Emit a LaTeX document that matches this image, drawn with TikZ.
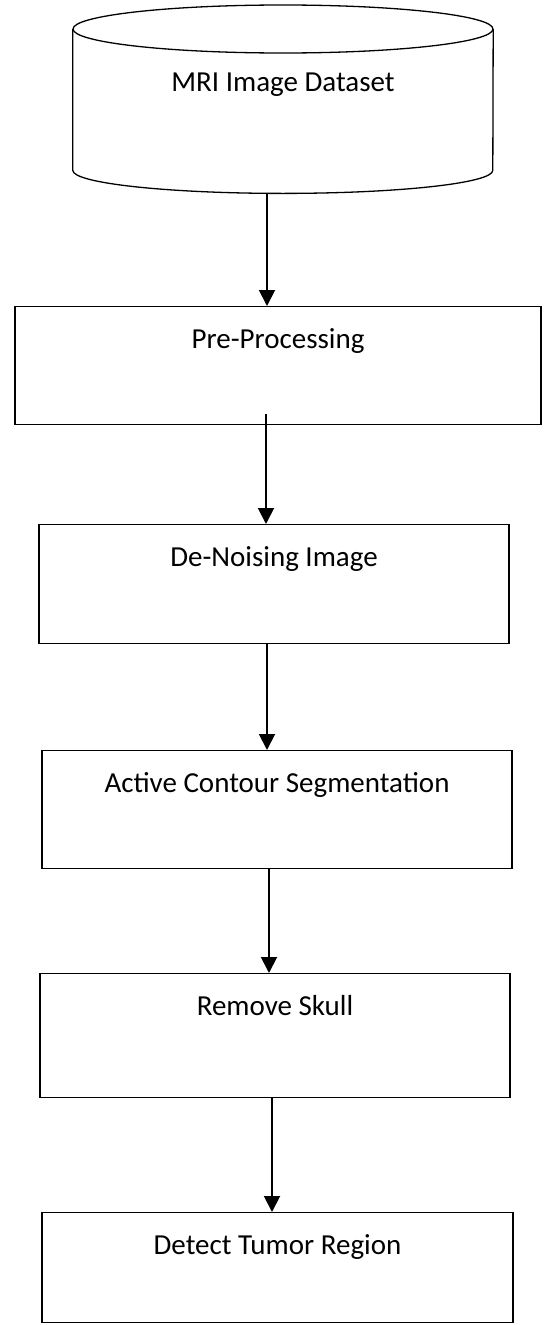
\documentclass[tikz,border=0pt]{standalone}
\usepackage{fontspec}
\setmainfont{Carlito}
\usetikzlibrary{arrows.meta}

\tikzset{
	stage/.style={draw, line width=1.4pt, inner sep=0pt, text height=42pt, anchor=north},
	flow/.style={line width=1.9pt, -{Triangle[width=16pt,length=16pt]}}
}

\begin{document}
\begin{tikzpicture}[x=1pt, y=-1pt, font=\fontsize{29}{34}\selectfont]
	\useasboundingbox (0,0) rectangle (544,1325);

	% Image dataset drawn as a cylinder
	\node [inner sep=0pt, minimum width=420pt, text height=62pt, text depth=79pt, anchor=north] (db) at (283,29) {MRI Image Dataset};
	\draw [line width=1.3pt] (db.north) ellipse [x radius=210pt, y radius=24pt];
	\draw [line width=1.3pt] (db.north west) -- (db.south west) arc [start angle=180, end angle=360, x radius=210pt, y radius=23pt] -- (db.north east);

	% Processing stages, top to bottom
	\node [stage, minimum width=526pt, text depth=76pt] (pre) at (278,306) {Pre-Processing};
	\node [stage, minimum width=470pt, text depth=77pt] (den) at (274,524) {De-Noising Image};
	\node [stage, minimum width=470pt, text depth=76pt] (acs) at (277,750) {Active Contour Segmentation};
	\node [stage, minimum width=470pt, text depth=82pt] (skull) at (275,973) {Remove Skull};
	\node [stage, minimum width=471pt, text depth=68pt] (tumor) at (277.5,1212) {Detect Tumor Region};

	% Arrows between the stages
	\draw [flow] ([xshift=-16pt,yshift=-23pt]db.south) -- ([xshift=-11pt]pre.north);
	\draw [flow] ([xshift=-12pt,yshift=11pt]pre.south) -- ([xshift=-8pt]den.north);
	\draw [flow] ([xshift=-7pt]den.south) -- ([xshift=-10pt]acs.north);
	\draw [flow] ([xshift=-8pt]acs.south) -- ([xshift=-6pt]skull.north);
	\draw [flow] ([xshift=-3pt]skull.south) -- ([xshift=-5.5pt]tumor.north);
\end{tikzpicture}
\end{document}
